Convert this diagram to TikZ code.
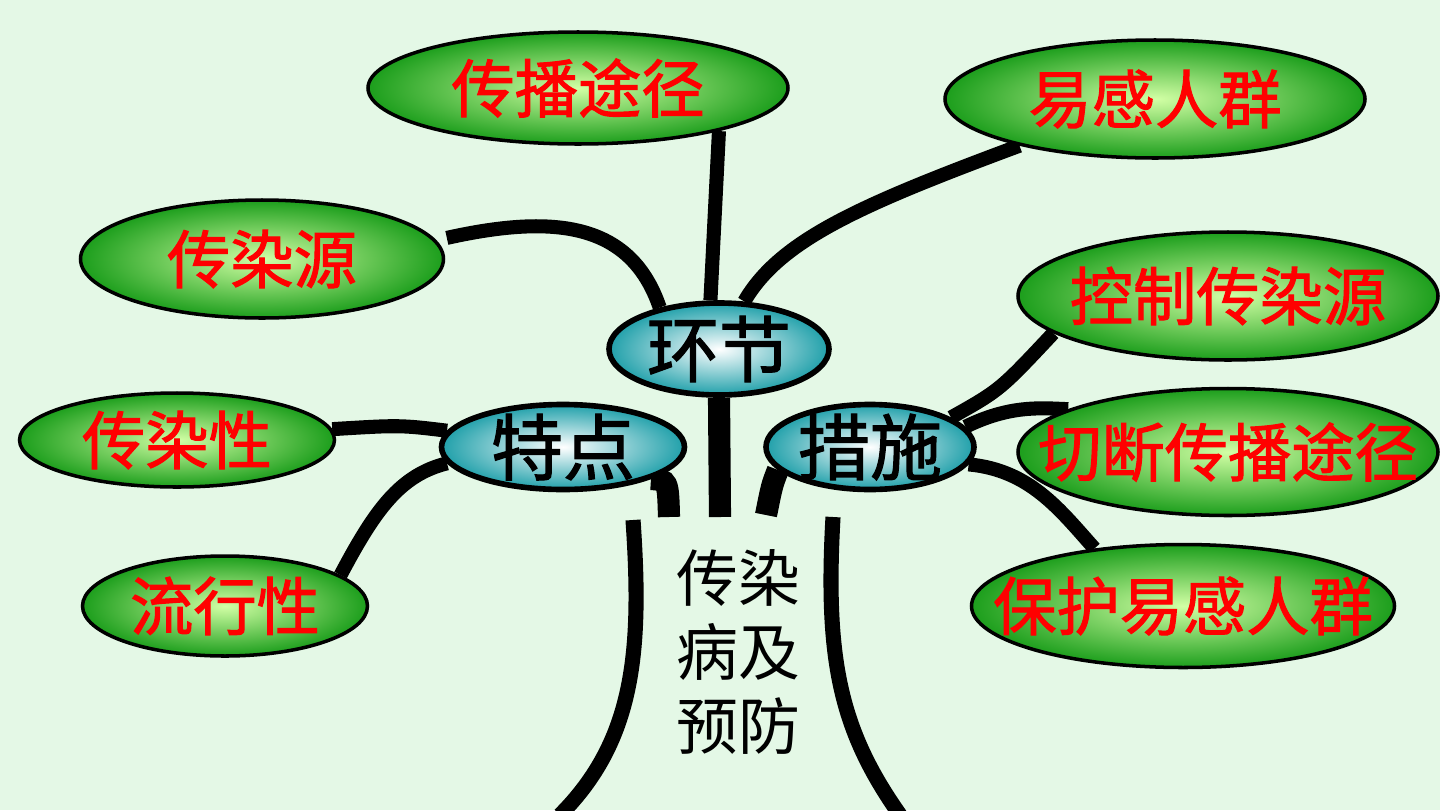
\documentclass[tikz,border=0pt]{standalone}
\usepackage{fontspec}
\newfontfamily\cjk{Noto Sans CJK SC}
\newfontfamily\cjkheavy[FakeBold=1.6]{Noto Sans CJK SC}
\usetikzlibrary{shapes.geometric}
\pgfdeclarelayer{under}
\pgfsetlayers{under,main}
\definecolor{paper}{RGB}{228,248,230}
\definecolor{leafgreen}{RGB}{28,158,28}
\definecolor{leaflight}{RGB}{210,255,165}
\definecolor{hubteal}{RGB}{32,160,170}

\begin{document}
\begin{tikzpicture}[
    leaf/.style={ellipse, draw=black, line width=1pt, inner sep=0pt,
        inner color=leaflight, outer color=leafgreen},
    hub/.style={ellipse, draw=black, line width=1.6pt, inner sep=0pt,
        inner color=white, outer color=hubteal},
    leaftext/.style={text=red, font=\cjkheavy\fontsize{18pt}{20pt}\selectfont},
    hubtext/.style={font=\cjkheavy\fontsize{20.5pt}{22pt}\selectfont},
    twig/.style={line width=4pt},
    stem/.style={line width=6.3pt}
]
    \useasboundingbox (0,0) rectangle (14.4,8.1);

    % hubs
    \node[hub, minimum width=2.2cm, minimum height=0.92cm] (huanjie) at (7.19,4.61) {};
    \node[hubtext] (huanjie-t) at (huanjie) {环节};
    \node[hub, minimum width=2.43cm, minimum height=0.85cm] (tedian) at (5.63,3.63) {};
    \node[hubtext] (tedian-t) at (tedian) {特点};
    \node[hub, minimum width=2.08cm, minimum height=0.85cm] (cuoshi) at (8.70,3.63) {};
    \node[hubtext] (cuoshi-t) at (cuoshi) {措施};

    % leaves of 环节
    \node[leaf, minimum width=4.2cm, minimum height=1.12cm] (chuanbo) at (5.78,7.22) {};
    \node[leaftext] (chuanbo-t) at (chuanbo) {传播途径};
    \node[leaf, minimum width=4.2cm, minimum height=1.18cm] (yigan) at (11.55,7.11) {};
    \node[leaftext] (yigan-t) at (yigan) {易感人群};
    \node[leaf, minimum width=3.63cm, minimum height=1.18cm] (yuan) at (2.62,5.51) {};
    \node[leaftext] (yuan-t) at (yuan) {传染源};

    % leaves of 特点
    \node[leaf, minimum width=3.15cm, minimum height=0.94cm] (xing) at (1.77,3.70) {};
    \node[leaftext] (xing-t) at (xing) {传染性};
    \node[leaf, minimum width=2.85cm, minimum height=1.0cm] (liu) at (2.25,2.04) {};
    \node[leaftext] (liu-t) at (liu) {流行性};

    % leaves of 措施
    \node[leaf, minimum width=4.2cm, minimum height=1.28cm] (kongzhi) at (12.28,5.14) {};
    \node[leaftext] (kongzhi-t) at (kongzhi) {控制传染源};
    \node[leaf, minimum width=4.2cm, minimum height=1.27cm] (qieduan) at (12.28,3.58) {};
    \node[leaftext] (qieduan-t) at (qieduan) {切断传播途径};
    \node[leaf, minimum width=4.23cm, minimum height=1.23cm] (baohu) at (11.83,2.04) {};
    \node[leaftext] (baohu-t) at (baohu) {保护易感人群};

    % trunk
    \node[align=center, font=\cjk\fontsize{17.6pt}{21pt}\selectfont] (title) at (7.38,1.58) {传染\\病及\\预防};
    \coordinate (root) at (7.20,2.93);
    \coordinate (tdroot) at (6.69,2.93);
    \coordinate (csroot) at (7.66,2.95);

    \begin{pgfonlayer}{under}
        \fill[paper] (0,0) rectangle (14.4,8.1);

        % branches
        \draw[twig] (chuanbo.-17) -- (huanjie.100);
        \draw[twig] ([xshift=0.13cm]yuan.7) .. controls (5.5,5.95) and (6.3,5.9) .. (huanjie.145);
        \draw[twig] (yigan.199) .. controls (8.6,6.05) and (7.8,5.7) .. (huanjie.62);
        \draw[twig] (xing.4) .. controls (4.0,3.85) .. (tedian.172);
        \draw[twig] (liu.15) .. controls (3.75,3.0) and (4.0,3.35) .. (tedian.188);
        \draw[twig] (cuoshi.20) .. controls (10.0,4.2) .. (kongzhi.192);
        \draw[twig] (cuoshi.12) .. controls (10.1,4.05) and (10.4,4.02) .. (qieduan.165);
        \draw[twig] (cuoshi.-10) .. controls (10.3,3.4) and (10.6,3.0) .. (baohu.147);

        % stems into the trunk
        \draw[stem] (huanjie.south) -- (root);
        \draw[stem] (tedian.-20) .. controls (6.68,3.3) .. (tdroot);
        \draw[stem] (cuoshi.194) .. controls (7.72,3.25) .. (csroot);

        % trunk sides
        \draw[line width=4.3pt] (6.33,2.90) .. controls (6.42,1.6) and (6.35,0.7) .. (5.6,-0.05);
        \draw[line width=4.3pt] (8.33,2.93) .. controls (8.25,1.5) and (8.4,0.8) .. (9.0,-0.05);
    \end{pgfonlayer}
\end{tikzpicture}
\end{document}
